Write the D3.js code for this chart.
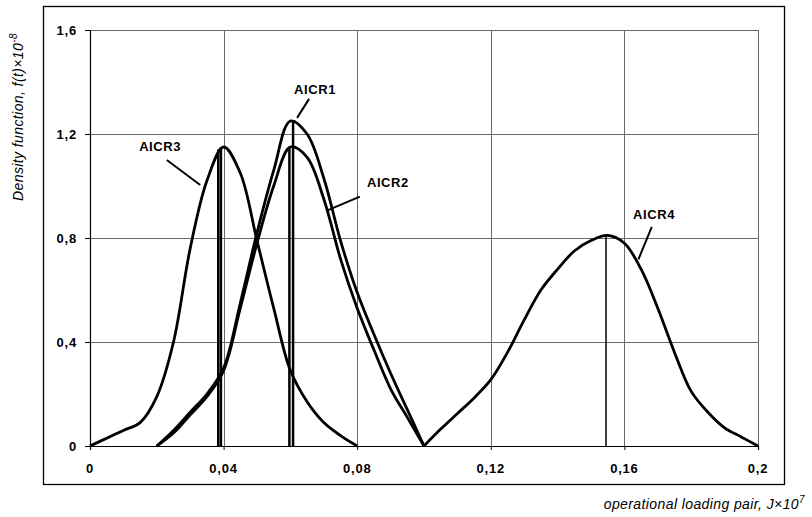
<!DOCTYPE html>
<html>
<head>
<meta charset="utf-8">
<script src="https://cdn.jsdelivr.net/npm/d3@7"></script>
<style>
  body { margin: 0; background: #fff; }
  svg text { font-family: Arial, "Liberation Sans", sans-serif; }
  .tick-label { font-size: 13px; font-weight: bold; letter-spacing: 0.8px; }
  .curve-label { font-size: 13px; font-weight: bold; letter-spacing: 0.6px; }
  .axis-title { font-size: 14px; font-style: italic; letter-spacing: 0.4px; }
</style>
</head>
<body>
<svg id="chart"></svg>
<script>
// x ticks / y ticks
const xTicks = [0, 0.04, 0.08, 0.12, 0.16, 0.2];
const yTicks = [0, 0.4, 0.8, 1.2, 1.6];

// AICR3
const aicr3T = [0, 0.005, 0.01, 0.015, 0.02, 0.025, 0.03, 0.035, 0.04, 0.045, 0.05, 0.055, 0.06, 0.065, 0.07, 0.075, 0.08];
const aicr3F = [0, 0.03, 0.06, 0.09, 0.19, 0.40, 0.76, 1.02, 1.15, 1.05, 0.79, 0.53, 0.29, 0.17, 0.09, 0.04, 0];

// AICR1
const aicr1T = [0.02, 0.025, 0.03, 0.035, 0.04, 0.045, 0.05, 0.055, 0.06, 0.065, 0.07, 0.075, 0.08, 0.085, 0.09, 0.095, 0.1];
const aicr1F = [0, 0.06, 0.13, 0.20, 0.30, 0.55, 0.82, 1.06, 1.25, 1.20, 1.03, 0.79, 0.59, 0.43, 0.28, 0.14, 0];

// AICR2
const aicr2T = [0.02, 0.025, 0.03, 0.035, 0.04, 0.045, 0.05, 0.055, 0.06, 0.065, 0.07, 0.075, 0.08, 0.085, 0.09, 0.095, 0.1];
const aicr2F = [0, 0.05, 0.12, 0.19, 0.29, 0.53, 0.78, 1.00, 1.15, 1.11, 0.95, 0.72, 0.53, 0.37, 0.22, 0.11, 0];

// AICR4
const aicr4T = [0.1, 0.105, 0.11, 0.115, 0.12, 0.125, 0.13, 0.135, 0.14, 0.145, 0.15, 0.155, 0.16, 0.165, 0.17, 0.175, 0.18, 0.185, 0.19, 0.195, 0.2];
const aicr4F = [0, 0.065, 0.125, 0.185, 0.255, 0.36, 0.485, 0.60, 0.68, 0.75, 0.79, 0.81, 0.78, 0.68, 0.53, 0.36, 0.21, 0.13, 0.07, 0.035, 0];

// vertical mode lines (t, height)
const modeT = [0.0384, 0.0392, 0.0597, 0.0608, 0.1545];
const modeF = [1.14, 1.15, 1.15, 1.25, 0.81];
const modeW = [2.5, 2.5, 2.5, 2.5, 1.5];

// curve labels with leader lines (data units)
const labelNames = ["AICR3", "AICR1", "AICR2", "AICR4"];
const labelPos = [[0.021, 1.133], [0.0674, 1.354], [0.0892, 0.996], [0.1689, 0.873]];
const leaderFrom = [[0.023, 1.10], [0.0656, 1.335], [0.0808, 0.959], [0.1682, 0.843]];
const leaderTo = [[0.033, 1.004], [0.062, 1.262], [0.0709, 0.905], [0.1642, 0.718]];

const width = 812, height = 517;
const margin = { top: 30, right: 54, bottom: 71, left: 90 };
const innerW = width - margin.left - margin.right;
const innerH = height - margin.top - margin.bottom;

const svg = d3.select("#chart").attr("width", width).attr("height", height);

// outer frame
svg.append("rect")
    .attr("x", 43.5).attr("y", 6.5)
    .attr("width", 741).attr("height", 478)
    .attr("fill", "none").attr("stroke", "#000").attr("stroke-width", 1.3);

const chart = svg.append("g").attr("transform", `translate(${margin.left},${margin.top})`);

const x = d3.scaleLinear().domain([0, 0.2]).range([0, innerW]);
const y = d3.scaleLinear().domain([0, 1.6]).range([innerH, 0]);

// gridlines
chart.append("g").selectAll("line")
    .data(xTicks.slice(1))
    .join("line")
    .attr("x1", d => Math.round(x(d)) + 0.5).attr("x2", d => Math.round(x(d)) + 0.5)
    .attr("y1", 0).attr("y2", innerH)
    .attr("stroke", "#6a6a6a").attr("stroke-width", 1);

chart.append("g").selectAll("line")
    .data(yTicks.slice(1))
    .join("line")
    .attr("x1", 0).attr("x2", innerW)
    .attr("y1", d => Math.round(y(d)) + 0.5).attr("y2", d => Math.round(y(d)) + 0.5)
    .attr("stroke", "#6a6a6a").attr("stroke-width", 1);

// axes
const xAxis = d3.axisBottom(x).tickValues(xTicks).tickSize(4).tickFormat("");
const yAxis = d3.axisLeft(y).tickValues(yTicks).tickSize(5).tickFormat("");

const xAxisG = chart.append("g").attr("transform", `translate(0,${innerH})`).call(xAxis);
const yAxisG = chart.append("g").call(yAxis);
[xAxisG, yAxisG].forEach(g => {
    g.select(".domain").attr("stroke", "#000").attr("stroke-width", 1.2);
    g.selectAll(".tick line").attr("stroke", "#000");
});

// tick labels
chart.append("g").selectAll("text")
    .data(xTicks)
    .join("text")
    .attr("class", "tick-label")
    .attr("x", d => x(d)).attr("y", innerH + 27)
    .attr("text-anchor", "middle")
    .text(d => String(d).replace(".", ","));

chart.append("g").selectAll("text")
    .data(yTicks)
    .join("text")
    .attr("class", "tick-label")
    .attr("x", -13).attr("y", d => y(d) + 5)
    .attr("text-anchor", "end")
    .text(d => String(d).replace(".", ","));

// curves
const line = d3.line()
    .x(d => x(d[0]))
    .y(d => y(d[1]))
    .curve(d3.curveCatmullRom.alpha(0.5));

const series = [
    [aicr3T, aicr3F],
    [aicr1T, aicr1F],
    [aicr2T, aicr2F],
    [aicr4T, aicr4F]
];
series.forEach(([ts, fs]) => {
    chart.append("path")
        .datum(ts.map((t, i) => [t, fs[i]]))
        .attr("fill", "none")
        .attr("stroke", "#000")
        .attr("stroke-width", 2.8)
        .attr("stroke-linejoin", "round")
        .attr("d", line);
});

// mode lines
chart.append("g").selectAll("line")
    .data(modeT)
    .join("line")
    .attr("x1", d => x(d)).attr("x2", d => x(d))
    .attr("y1", y(0)).attr("y2", (d, i) => y(modeF[i]))
    .attr("stroke", "#000")
    .attr("stroke-width", (d, i) => modeW[i]);

// labels + leaders
labelNames.forEach((name, i) => {
    chart.append("line")
        .attr("x1", x(leaderFrom[i][0])).attr("y1", y(leaderFrom[i][1]))
        .attr("x2", x(leaderTo[i][0])).attr("y2", y(leaderTo[i][1]))
        .attr("stroke", "#000").attr("stroke-width", 2);
    chart.append("text")
        .attr("class", "curve-label")
        .attr("x", x(labelPos[i][0])).attr("y", y(labelPos[i][1]))
        .attr("text-anchor", "middle")
        .text(name);
});

// axis titles
const yTitle = svg.append("text")
    .attr("class", "axis-title")
    .attr("transform", "translate(23,201) rotate(-90)")
    .attr("text-anchor", "start");
yTitle.append("tspan").text("Density function, f(t)\u00d710");
yTitle.append("tspan").attr("dy", -6).style("font-size", "10px").text("-8");

const xTitle = svg.append("text")
    .attr("class", "axis-title")
    .attr("x", 805).attr("y", 509)
    .attr("text-anchor", "end");
xTitle.append("tspan").text("operational loading pair, J\u00d710");
xTitle.append("tspan").attr("dy", -6).style("font-size", "10px").text("7");
</script>
</body>
</html>
